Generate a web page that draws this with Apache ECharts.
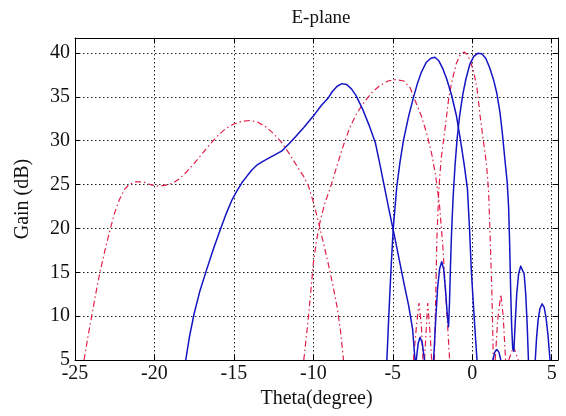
<!DOCTYPE html>
<html>
<head>
<meta charset="utf-8">
<script src="https://cdn.jsdelivr.net/npm/echarts@6/dist/echarts.min.js"></script>
<style>html,body{margin:0;padding:0;background:#fff}#c{width:566px;height:416px}</style>
</head>
<body>
<div id="c"></div>
<script>
// ---- data (x = Theta in degree, y = Gain in dB) ----
var xTicks = [-25, -20, -15, -10, -5, 0, 5];
var yTicks = [5, 10, 15, 20, 25, 30, 35, 40];

// red dash-dot beams (null separates lobes that dip below the 5 dB floor)
var red1 = [[-24.43,5],[-24.2,7.5],[-23.95,10],[-23.7,12.5],[-23.43,15],[-23.1,17.6],[-22.8,19.8],[-22.5,21.8],[-22.2,23.3],[-21.9,24.4],[-21.6,25.0],[-21.2,25.3],[-20.7,25.3],[-20.2,24.95],[-19.7,24.8],[-19.2,24.95],[-18.8,25.2],[-18.4,25.7],[-18.0,26.4],[-17.5,27.4],[-17.0,28.5],[-16.5,29.6],[-16.0,30.6],[-15.5,31.4],[-15.0,31.9],[-14.5,32.2],[-14.0,32.3],[-13.5,32.1],[-13.0,31.6],[-12.5,30.8],[-12.0,29.8],[-11.5,28.5],[-11.0,27.0],[-10.6,25.9],[-10.3,24.8],[-10.0,23.0],[-9.7,20.9],[-9.4,18.6],[-9.1,16.3],[-8.8,13.8],[-8.5,11.0],[-8.3,8.5],[-8.1,5]];
var red2 = [[-10.6,5],[-10.45,7.5],[-10.3,10],[-10.15,13],[-10.0,16],[-9.8,18.6],[-9.55,21],[-9.25,23],[-8.9,24.8],[-8.5,27.2],[-8.1,29.5],[-7.7,31.5],[-7.3,33.0],[-6.8,34.4],[-6.3,35.5],[-5.8,36.3],[-5.3,36.8],[-4.8,36.95],[-4.3,36.8],[-3.9,36.0],[-3.6,34.6],[-3.2,32.8],[-2.85,30.75],[-2.55,28.5],[-2.3,26],[-2.05,22.5],[-1.85,18],[-1.7,13.5],[-1.55,9],[-1.42,5]];
var red3 = [[-3.7,5],[-3.5,9],[-3.35,11.5],[-3.2,9],[-3.1,5],null,[-3.0,5],[-2.88,9],[-2.8,11.5],[-2.65,8],[-2.55,5],null,[-2.38,5],[-2.3,12],[-2.22,19],[-2.1,24.5],[-1.95,28],[-1.7,31.5],[-1.5,34.5],[-1.3,36.6],[-1.0,38.8],[-0.75,39.8],[-0.5,40.1],[-0.3,39.8],[-0.1,39.0],[0.1,37.8],[0.3,36.0],[0.5,32.8],[0.7,30],[0.9,27.3],[1.03,24.3],[1.15,18],[1.25,12],[1.33,5],null,[1.45,5],[1.6,9.5],[1.8,12.5],[1.95,10],[2.1,5],null,[2.3,5],[2.6,6.5],[2.9,5]];

// blue solid beams
var blue1 = [[-18.03,5],[-17.8,7.6],[-17.5,10.3],[-17.15,12.8],[-16.75,15.1],[-16.3,17.6],[-15.87,19.8],[-15.5,21.6],[-15.13,23.2],[-14.9,24.0],[-14.5,25.2],[-14.2,25.9],[-13.9,26.6],[-13.56,27.2],[-13.2,27.6],[-12.72,28.1],[-12.4,28.4],[-12.0,28.8],[-11.5,29.7],[-11.25,30.2],[-10.6,31.5],[-10.0,32.8],[-9.5,34.0],[-9.05,34.9],[-8.8,35.6],[-8.5,36.2],[-8.2,36.5],[-7.9,36.4],[-7.6,35.9],[-7.3,35.1],[-6.9,33.6],[-6.5,31.8],[-6.1,29.8],[-5.8,27.2],[-5.5,24.5],[-5.2,21.8],[-4.9,19.2],[-4.6,16.5],[-4.3,13.8],[-4.0,11.2],[-3.75,8.5],[-3.6,5],null,[-3.52,5],[-3.4,6.9],[-3.28,7.6],[-3.15,7.0],[-3.0,5]];
var blue2 = [[-5.37,5],[-5.25,10],[-5.12,15],[-4.97,20],[-4.75,24.7],[-4.55,27.5],[-4.33,30],[-4.0,32.8],[-3.7,34.9],[-3.45,36.5],[-3.2,37.8],[-2.9,38.9],[-2.6,39.4],[-2.35,39.5],[-2.1,39.1],[-1.85,38.2],[-1.6,37.0],[-1.3,35.2],[-1.0,32.9],[-0.75,30.2],[-0.5,27.2],[-0.3,24.5],[-0.17,20],[-0.05,15],[0.12,10],[0.3,5],null,[1.3,5],[1.42,5.9],[1.55,6.2],[1.68,5.9],[1.8,5]];
var blue3 = [[-2.43,5],[-2.3,9.5],[-2.18,13.2],[-2.05,15.4],[-1.92,16.2],[-1.8,15.4],[-1.68,13],[-1.57,10.2],[-1.49,8.8],[-1.43,11.5],[-1.37,15.5],[-1.3,19.5],[-1.2,23.6],[-1.08,27.2],[-0.95,30.2],[-0.8,32.7],[-0.6,35.2],[-0.4,37.0],[-0.15,38.7],[0.1,39.6],[0.35,39.95],[0.6,39.9],[0.85,39.4],[1.1,38.3],[1.35,36.9],[1.55,35.4],[1.75,33.2],[1.9,30.8],[2.05,28],[2.2,25.3],[2.29,22.5],[2.36,18],[2.42,13],[2.48,9],[2.55,6.3],[2.62,6.0],[2.7,9],[2.8,12.5],[2.92,14.8],[3.05,15.7],[3.15,15.8],[3.27,14.8],[3.37,12.5],[3.46,9],[3.54,5],null,[3.97,5],[4.05,7.5],[4.15,9.6],[4.27,10.9],[4.4,11.4],[4.53,11.0],[4.65,9.8],[4.77,7.8],[4.9,5]];

var FONT = 'Liberation Serif';
var RED = '#e0204a', BLUE = '#1414c4';

function redSeries(d){ return {type:'line', data:d, showSymbol:false, connectNulls:false, z:2,
  lineStyle:{color:RED, width:1.2, type:[6,3,1.5,3]}}; }
function blueSeries(d){ return {type:'line', data:d, showSymbol:false, connectNulls:false, z:3,
  lineStyle:{color:BLUE, width:1.5, type:'solid', join:'round'}}; }

var chart = echarts.init(document.getElementById('c'), null, {renderer:'canvas'});
var fmt = function(list){ return function(v){ for (var i=0;i<list.length;i++) if (Math.abs(v-list[i])<1e-6) return String(v); return ''; }; };
var gridDots = {show:true, lineStyle:{color:'#222', width:1, type:[1.5,2.5]}};
chart.setOption({
  animation:false,
  backgroundColor:'#fff',
  title:{text:'E-plane', left:316, top:4, textAlign:'center',
    textStyle:{fontFamily:FONT, fontSize:19, fontWeight:'normal', color:'#111'}},
  grid:{left:75, right:8, top:38, bottom:56, show:false},
  xAxis:[{type:'value', min:-25, max:5.4, interval:5, position:'bottom',
    name:'Theta(degree)', nameLocation:'middle', nameGap:28,
    nameTextStyle:{fontFamily:FONT, fontSize:20, color:'#111'},
    axisLine:{show:true, onZero:false, lineStyle:{color:'#000', width:1}},
    axisTick:{show:true, inside:true, length:5, lineStyle:{color:'#000'}},
    axisLabel:{fontFamily:FONT, fontSize:20, color:'#111', margin:4, formatter:fmt(xTicks)},
    splitLine:gridDots},
   {type:'value', min:-25, max:5.4, interval:5, position:'top',
    axisLine:{show:true, onZero:false, lineStyle:{color:'#000', width:1}},
    axisTick:{show:true, inside:true, length:5, lineStyle:{color:'#000'}},
    axisLabel:{show:false}, splitLine:{show:false}}],
  yAxis:[{type:'value', min:5, max:41.7, interval:5, position:'left',
    name:'Gain (dB)', nameLocation:'middle', nameGap:42,
    nameTextStyle:{fontFamily:FONT, fontSize:20, color:'#111'},
    axisLine:{show:true, onZero:false, lineStyle:{color:'#000', width:1}},
    axisTick:{show:true, inside:true, length:5, lineStyle:{color:'#000'}},
    axisLabel:{fontFamily:FONT, fontSize:20, color:'#111', margin:5, formatter:fmt(yTicks)},
    splitLine:gridDots},
   {type:'value', min:5, max:41.7, interval:5, position:'right',
    axisLine:{show:true, onZero:false, lineStyle:{color:'#000', width:1}},
    axisTick:{show:true, inside:true, length:5, lineStyle:{color:'#000'}},
    axisLabel:{show:false}, splitLine:{show:false}}],
  series:[redSeries(red1), redSeries(red2), redSeries(red3), blueSeries(blue1), blueSeries(blue2), blueSeries(blue3)]
});
</script>
</body>
</html>
